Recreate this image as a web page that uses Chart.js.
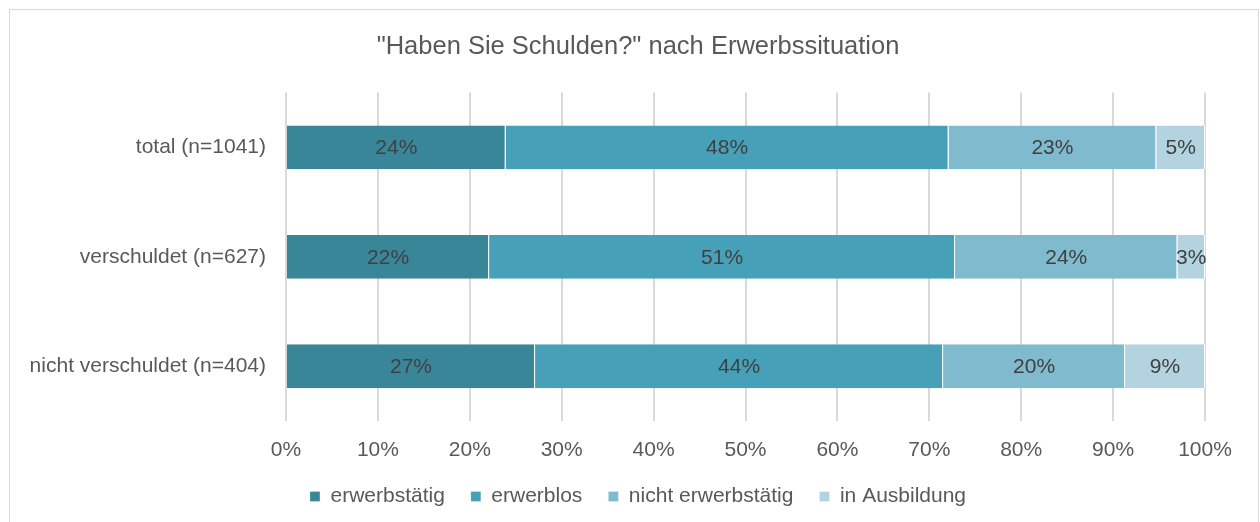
<!DOCTYPE html>
<html>
<head>
<meta charset="utf-8">
<script src="https://cdn.jsdelivr.net/npm/chart.js@4"></script>
<style>
  html, body { margin: 0; padding: 0; background: #fff; }
  #wrap { position: relative; width: 1260px; height: 522px; overflow: hidden; }
  #frame { position: absolute; left: 9px; top: 9px; width: 1248px; height: 540px; border: 1px solid #d9d9d9; pointer-events: none; }
</style>
</head>
<body>
<div id="wrap">
  <canvas id="chart" width="1260" height="522"></canvas>
  <div id="frame"></div>
</div>
<script>
// Data (percent shares per group)
const groups = ['total (n=1041)', 'verschuldet (n=627)', 'nicht verschuldet (n=404)'];
const erwerbstaetig = [23.9, 22.1, 27.1];
const erwerblos = [48.2, 50.7, 44.4];
const nichtErwerbstaetig = [22.6, 24.2, 19.8];
const inAusbildung = [5.3, 3.0, 8.7];
const xTicks = [0, 10, 20, 30, 40, 50, 60, 70, 80, 90, 100];

const font = "'Liberation Sans', Arial, sans-serif";

// draws the percentage inside each segment
const segmentLabels = {
    id: 'segmentLabels',
    afterDatasetsDraw(chart) {
        const ctx = chart.ctx;
        ctx.save();
        ctx.font = '21px ' + font;
        ctx.fillStyle = '#404040';
        ctx.textAlign = 'center';
        ctx.textBaseline = 'middle';
        chart.data.datasets.forEach((ds, i) => {
            chart.getDatasetMeta(i).data.forEach((bar, j) => {
                const x = (bar.x + bar.base) / 2;
                ctx.fillText(Math.round(ds.data[j]) + '%', x, bar.y + 1);
            });
        });
        ctx.restore();
    }
};

// x axis box is squeezed so the legend sits closer; let its labels draw past the box
const unclipX = {
    id: 'unclipX',
    afterLayout(chart) {
        chart.scales.x.bottom = chart.scales.x.top + 50;
    }
};

const chart = new Chart(document.getElementById('chart'), {
    type: 'bar',
    data: {
        labels: groups,
        datasets: [
            { label: 'erwerbstätig', data: erwerbstaetig, backgroundColor: '#3a8699' },
            { label: 'erwerblos', data: erwerblos, backgroundColor: '#46a0b8' },
            { label: 'nicht erwerbstätig', data: nichtErwerbstaetig, backgroundColor: '#7fbacf' },
            { label: 'in Ausbildung', data: inAusbildung, backgroundColor: '#b2d3df' }
        ]
    },
    plugins: [segmentLabels, unclipX],
    options: {
        indexAxis: 'y',
        responsive: false,
        animation: false,
        datasets: {
            bar: {
                categoryPercentage: 1,
                barPercentage: 0.4,
                borderColor: '#ffffff',
                borderWidth: { right: 1 },
                borderSkipped: false
            }
        },
        layout: { padding: { left: 26, right: 10, top: 24, bottom: 5 } },
        scales: {
            x: {
                stacked: true,
                min: 0,
                max: 100,
                afterBuildTicks: (axis) => { axis.ticks = xTicks.map(v => ({ value: v })); },
                afterFit: (axis) => { axis.paddingRight = 55; axis.height = 39; },
                grid: { color: '#d9d9d9', lineWidth: 2, drawTicks: false },
                border: { display: false },
                ticks: {
                    callback: v => v + '%',
                    color: '#595959',
                    font: { family: font, size: 21 },
                    padding: 17,
                    maxRotation: 0
                }
            },
            y: {
                stacked: true,
                afterFit: (axis) => { axis.width = 260; },
                grid: { display: false, drawTicks: false },
                border: { display: false },
                ticks: {
                    color: '#595959',
                    font: { family: font, size: 21 },
                    padding: 20
                }
            }
        },
        plugins: {
            title: {
                display: true,
                text: '"Haben Sie Schulden?" nach Erwerbssituation',
                color: '#595959',
                font: { family: font, size: 25.5, weight: 'normal' },
                padding: { top: 8, bottom: 30 }
            },
            legend: {
                position: 'bottom',
                labels: {
                    color: '#595959',
                    font: { family: font, size: 21 },
                    boxWidth: 10,
                    boxHeight: 10,
                    padding: 26
                }
            },
            tooltip: { enabled: false }
        }
    }
});
</script>
</body>
</html>
